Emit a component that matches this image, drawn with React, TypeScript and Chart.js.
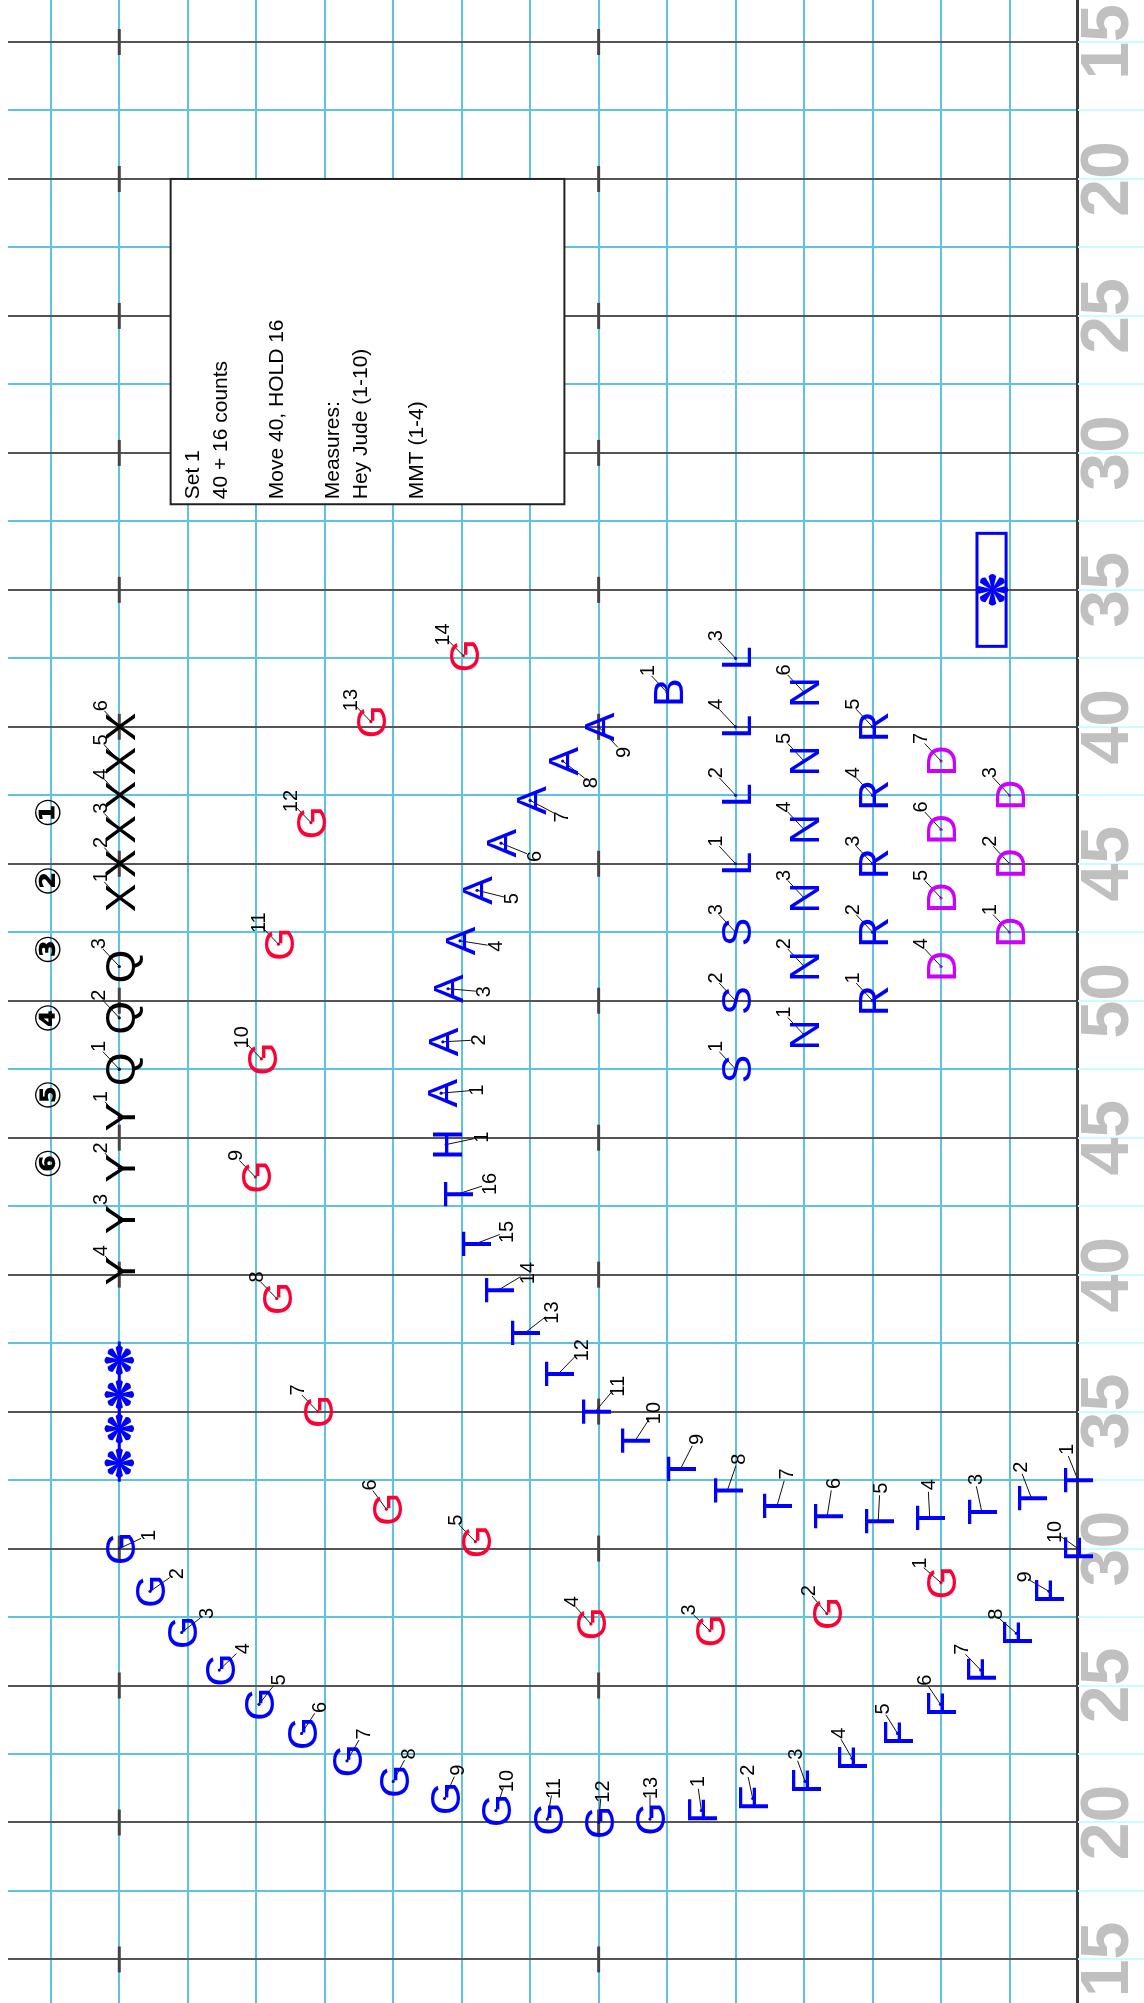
import React, { useEffect, useRef } from "react";
import { Chart, registerables } from "chart.js";

Chart.register(...registerables);

const FONT = '"Liberation Sans", Arial, Helvetica, sans-serif';

// ---- Field data (x = steps behind the front sideline, y = steps from the top goal line; 8 steps = 5 yards)
const yardLineSteps = [24, 32, 40, 48, 56, 64, 72, 80, 88, 96, 104, 112, 120, 128, 136];
const yardLineLabels = ["15", "20", "25", "30", "35", "40", "45", "50", "45", "40", "35", "30", "25", "20", "15"];
const hashSteps = [28, 56];
const gridXSteps = [0, 4, 8, 12, 16, 20, 24, 28, 32, 36, 40, 44, 48, 52, 56, 60];
const gridYSteps = [24, 28, 32, 36, 40, 44, 48, 52, 56, 60, 64, 68, 72, 76, 80, 84, 88, 92, 96, 100, 104, 108, 112, 116, 120, 124, 128, 132, 136];

const setText = ["Set 1", "40 + 16 counts", "", "Move 40, HOLD 16", "", "Measures:", "Hey Jude (1-10)", "", "MMT (1-4)"];
const setBoxX = [53, 30];
const setBoxY = [32, 51];

// ---- Performers
const blueGX = [56, 54.2, 52.35, 50.16, 47.84, 45.35, 42.7, 40.0, 37.0, 34.0, 31.0, 28.0, 25.0];
const blueGY = [112, 114.5, 116.9, 119.1, 121.1, 122.8, 124.4, 125.6, 126.6, 127.3, 127.8, 128.0, 127.8];
const blueGAngle = [-25, -35, -38, -44, -52, -57, -60, -62, -66, -72, -80, -85, -90];

const fluteX = [22, 19, 15.94, 13.2, 10.54, 8.03, 5.68, 3.6, 1.69, 0];
const fluteY = [127.3, 126.6, 125.6, 124.25, 122.8, 121.1, 119.1, 116.95, 114.5, 112.0];
const fluteAngle = [-98, -102, -110, -120, -122, -124, -134, -139, -150, -145];

const tX = [0, 2.72, 5.62, 8.66, 11.67, 14.65, 17.58, 20.48, 23.22, 25.87, 28.2, 30.36, 32.3, 33.86, 35.2, 36.26];
const tY = [108.0, 109.05, 109.85, 110.2, 110.4, 110.1, 109.5, 108.6, 107.35, 105.7, 104, 101.8, 99.4, 96.9, 94.2, 91.3];
const tAngle = [-112, -111, -102, -93, -87, -81, -74, -71, -63, -57, -50, -46, -38, -31, -21, -18];

const hX = [36.9];
const hY = [88.4];
const hAngle = [-12];

const aX = [37.2, 37.1, 36.8, 36.1, 35.1, 33.7, 32.0, 30.1, 28];
const aY = [85.4, 82.4, 79.3, 76.5, 73.55, 70.8, 68.3, 66.0, 64];
const aAngle = [-5, -3, 5, 9, 14, 22, 28, 38, 47];

const bX = [24];
const bY = [62];

const sX = [20, 20, 20];
const sY = [84, 80, 76];
const lX = [20, 20, 20, 20];
const lY = [72, 68, 60, 64];
const nX = [16, 16, 16, 16, 16, 16];
const nY = [82, 78, 74, 70, 66, 62];
const rX = [12, 12, 12, 12, 12];
const rY = [80, 76, 72, 68, 64];
const dX = [4, 4, 4, 8, 8, 8, 8];
const dY = [76, 72, 68, 78, 74, 70, 66];

const redGX = [8, 14.67, 21.5, 28.45, 35.2, 40.4, 44.4, 46.8, 48.05, 47.7, 46.7, 44.8, 41.3, 35.9];
const redGY = [114, 115.8, 116.8, 116.4, 111.6, 109.7, 104, 97.4, 90.3, 83.4, 76.7, 69.6, 63.7, 59.85];
const redGAngle = [-139, -130, -136, -132, -134, -126, -134, -134, -134, -134, -134, -134, -134, -135];

const xX = [56, 56, 56, 56, 56, 56];
const xY = [74, 72, 70, 68, 66, 64];
const qX = [56, 56, 56];
const qY = [84, 81, 78];
const yX = [56, 56, 56, 56];
const yY = [86.8, 89.8, 92.8, 95.8];

const circledText = ["①", "②", "③", "④", "⑤", "⑥"];
const circledX = [60, 60, 60, 60, 60, 60];
const circledY = [69, 73, 77, 81, 85.5, 89.5];

const pitX = [56, 56, 56, 56];
const pitY = [101, 103, 105, 107];
const pitLineY = [99.9, 108.1];

const podiumX = [5];
const podiumY = [56];
const podiumBoxX = [5.9, 4.2];
const podiumBoxY = [52.7, 59.3];

const BLUE = "#0000ff";
const RED = "#ff0033";
const MAGENTA = "#cc00ff";
const BLACK = "#000000";

function group(letter: string, color: string, xs: number[], ys: number[], angle: number | number[], dist = 30) {
  return {
    label: letter,
    kind: "performer",
    letter,
    color,
    angle,
    dist,
    data: xs.map((x, i) => ({ x, y: ys[i] })),
    pointRadius: 1.6,
    pointBackgroundColor: color,
    pointBorderWidth: 0,
    showLine: false,
  };
}

const UPLEFT = -133;

const datasets: any[] = [
  group("G", BLUE, blueGX, blueGY, blueGAngle, 31),
  group("F", BLUE, fluteX, fluteY, fluteAngle, 29),
  group("T", BLUE, tX, tY, tAngle, 33),
  group("H", BLUE, hX, hY, hAngle, 35),
  group("A", BLUE, aX, aY, aAngle, 35),
  group("B", BLUE, bX, bY, UPLEFT, 30),
  group("S", BLUE, sX, sY, UPLEFT, 31),
  group("L", BLUE, lX, lY, UPLEFT, 31),
  group("N", BLUE, nX, nY, UPLEFT, 31),
  group("R", BLUE, rX, rY, UPLEFT, 31),
  group("D", MAGENTA, dX, dY, UPLEFT, 31),
  group("G", RED, redGX, redGY, redGAngle, 30),
  group("X", BLACK, xX, xY, UPLEFT, 29),
  group("Q", BLACK, qX, qY, UPLEFT, 31),
  group("Y", BLACK, yX, yY, UPLEFT, 28),
  {
    label: "circled",
    kind: "mark",
    texts: circledText,
    color: BLACK,
    data: circledX.map((x, i) => ({ x, y: circledY[i] })),
    pointRadius: 0,
  },
  {
    label: "pit-line",
    kind: "line",
    data: pitLineY.map((y) => ({ x: pitX[0], y })),
    showLine: true,
    borderColor: BLUE,
    borderWidth: 3,
    pointRadius: 0,
  },
  {
    label: "pit",
    kind: "asterisk",
    color: BLUE,
    size: 15,
    data: pitX.map((x, i) => ({ x, y: pitY[i] })),
    pointRadius: 0,
  },
  {
    label: "podium",
    kind: "asterisk",
    color: BLUE,
    size: 16,
    data: podiumX.map((x, i) => ({ x, y: podiumY[i] })),
    pointRadius: 0,
  },
];

function rotText(ctx: CanvasRenderingContext2D, text: string, x: number, y: number, size: number, capShift: number) {
  ctx.save();
  ctx.translate(x, y);
  ctx.rotate(-Math.PI / 2);
  ctx.fillText(text, 0, capShift * size);
  ctx.restore();
}

function drawAsterisk(ctx: CanvasRenderingContext2D, x: number, y: number, r: number, color: string) {
  ctx.fillStyle = color;
  const w = r * 0.24;
  for (let k = 0; k < 8; k++) {
    const a = (k * Math.PI) / 4;
    const ca = Math.cos(a);
    const sa = Math.sin(a);
    const px = -sa;
    const py = ca;
    const ex = x + ca * (r - w * 0.6);
    const ey = y + sa * (r - w * 0.6);
    ctx.beginPath();
    ctx.moveTo(x + px * 0.7, y + py * 0.7);
    ctx.lineTo(ex + px * w, ey + py * w);
    ctx.quadraticCurveTo(x + ca * (r + w * 0.5), y + sa * (r + w * 0.5), ex - px * w, ey - py * w);
    ctx.lineTo(x - px * 0.7, y - py * 0.7);
    ctx.closePath();
    ctx.fill();
  }
}

const fieldPlugin = {
  id: "field",
  beforeDatasetsDraw(chart: any) {
    const { ctx, chartArea } = chart;
    const xs = chart.scales.x;
    const ys = chart.scales.y;
    ctx.save();
    ctx.strokeStyle = "#ccfcff";
    ctx.lineWidth = 2;
    for (const t of gridYSteps) {
      const py = Math.round(ys.getPixelForValue(t));
      ctx.beginPath();
      ctx.moveTo(chartArea.right, py);
      ctx.lineTo(chart.width, py);
      ctx.stroke();
    }
    ctx.strokeStyle = "#3a3a3a";
    ctx.lineWidth = 2;
    ctx.beginPath();
    ctx.moveTo(chartArea.right - 1, 0);
    ctx.lineTo(chartArea.right - 1, chart.height);
    ctx.stroke();
    ctx.strokeStyle = "#444444";
    ctx.lineWidth = 3;
    for (const t of yardLineSteps) {
      const py = ys.getPixelForValue(t);
      for (const h of hashSteps) {
        const px = xs.getPixelForValue(h);
        ctx.beginPath();
        ctx.moveTo(px, py - 13);
        ctx.lineTo(px, py + 13);
        ctx.stroke();
      }
    }
    ctx.fillStyle = "#c0c0c0";
    ctx.font = `bold 68px ${FONT}`;
    ctx.textAlign = "center";
    ctx.textBaseline = "alphabetic";
    yardLineSteps.forEach((t, i) => {
      rotText(ctx, yardLineLabels[i], chartArea.right + 25.5, ys.getPixelForValue(t), 68, 0.358);
    });
    const bl = xs.getPixelForValue(setBoxX[0]);
    const br = xs.getPixelForValue(setBoxX[1]);
    const bt = ys.getPixelForValue(setBoxY[0]);
    const bb = ys.getPixelForValue(setBoxY[1]);
    ctx.fillStyle = "#ffffff";
    ctx.fillRect(bl, bt, br - bl, bb - bt);
    ctx.strokeStyle = "#222222";
    ctx.lineWidth = 2;
    ctx.strokeRect(bl, bt, br - bl, bb - bt);
    ctx.fillStyle = "#000000";
    ctx.font = `21px ${FONT}`;
    ctx.textAlign = "left";
    setText.forEach((line, i) => {
      if (!line) return;
      ctx.save();
      ctx.translate(bl + 28.5 + 28 * i, bb - 5);
      ctx.rotate(-Math.PI / 2);
      ctx.fillText(line, 0, 0);
      ctx.restore();
    });
    const pl = xs.getPixelForValue(podiumBoxX[0]);
    const pr = xs.getPixelForValue(podiumBoxX[1]);
    const pt = ys.getPixelForValue(podiumBoxY[0]);
    const pb = ys.getPixelForValue(podiumBoxY[1]);
    ctx.fillStyle = "#ffffff";
    ctx.fillRect(pl, pt, pr - pl, pb - pt);
    ctx.strokeStyle = BLUE;
    ctx.lineWidth = 3;
    ctx.strokeRect(pl, pt, pr - pl, pb - pt);
    ctx.restore();
  },
  afterDatasetsDraw(chart: any) {
    const { ctx } = chart;
    ctx.save();
    chart.data.datasets.forEach((ds: any, di: number) => {
      const meta = chart.getDatasetMeta(di);
      if (ds.kind === "performer") {
        meta.data.forEach((pt: any, j: number) => {
          const px = pt.x;
          const py = pt.y;
          const ang = ((Array.isArray(ds.angle) ? ds.angle[j] : ds.angle) * Math.PI) / 180;
          const ux = Math.cos(ang);
          const uy = Math.sin(ang);
          ctx.strokeStyle = "#111111";
          ctx.lineWidth = 1;
          ctx.beginPath();
          ctx.moveTo(px, py);
          ctx.lineTo(px + ux * (ds.dist - 7), py + uy * (ds.dist - 7));
          ctx.stroke();
          ctx.fillStyle = ds.color;
          ctx.font = `43px ${FONT}`;
          ctx.textAlign = "center";
          ctx.textBaseline = "alphabetic";
          rotText(ctx, ds.letter, px, py, 43, 0.358);
          ctx.fillStyle = "#000000";
          ctx.font = `20px ${FONT}`;
          rotText(ctx, String(j + 1), px + ux * ds.dist, py + uy * ds.dist, 20, 0.358);
        });
      } else if (ds.kind === "mark") {
        meta.data.forEach((pt: any, j: number) => {
          ctx.fillStyle = ds.color;
          ctx.font = `bold 35px "DejaVu Sans", ${FONT}`;
          ctx.textAlign = "center";
          ctx.textBaseline = "middle";
          ctx.save();
          ctx.translate(pt.x, pt.y);
          ctx.rotate(-Math.PI / 2);
          ctx.fillText(ds.texts[j], 0, 0);
          ctx.restore();
        });
      } else if (ds.kind === "asterisk") {
        meta.data.forEach((pt: any) => {
          drawAsterisk(ctx, pt.x, pt.y, ds.size, ds.color);
        });
      }
    });
    ctx.restore();
  },
};

export default function App() {
  const ref = useRef<HTMLCanvasElement>(null);
  useEffect(() => {
    const canvas = ref.current;
    if (!canvas) return;
    const chart = new Chart(canvas, {
      type: "scatter",
      data: { datasets },
      options: {
        responsive: false,
        animation: false,
        events: [],
        layout: { autoPadding: false, padding: { left: 8, right: 66, top: 0, bottom: 0 } },
        plugins: { legend: { display: false }, tooltip: { enabled: false } },
        scales: {
          x: {
            type: "linear",
            reverse: true,
            min: 0,
            max: 62.5,
            afterBuildTicks: (s: any) => {
              s.ticks = gridXSteps.map((v) => ({ value: v }));
            },
            afterFit: (s: any) => {
              s.height = 0;
            },
            ticks: { display: false },
            border: { display: false },
            grid: {
              color: (c: any) => (c.tick && c.tick.value === 0 ? "#3a3a3a" : "#5ec3dc"),
              lineWidth: 2,
              drawTicks: false,
            },
          },
          y: {
            type: "linear",
            reverse: true,
            min: 24 - 42 / 17.12,
            max: 24 + (2003 - 42) / 17.12,
            afterBuildTicks: (s: any) => {
              s.ticks = gridYSteps.map((v) => ({ value: v }));
            },
            afterFit: (s: any) => {
              s.width = 0;
            },
            ticks: { display: false },
            border: { display: false },
            grid: {
              color: (c: any) => (c.tick && c.tick.value % 8 === 0 ? "#555555" : "#5ec3dc"),
              lineWidth: 2,
              drawTicks: false,
            },
          },
        },
      } as any,
      plugins: [fieldPlugin],
    });
    return () => chart.destroy();
  }, []);
  return (
    <div style={{ position: "absolute", left: 0, top: 0, width: 1144, height: 2003, overflow: "hidden", background: "#fff" }}>
      <canvas ref={ref} width={1144} height={2003} style={{ display: "block", width: 1144, height: 2003 }} />
    </div>
  );
}
